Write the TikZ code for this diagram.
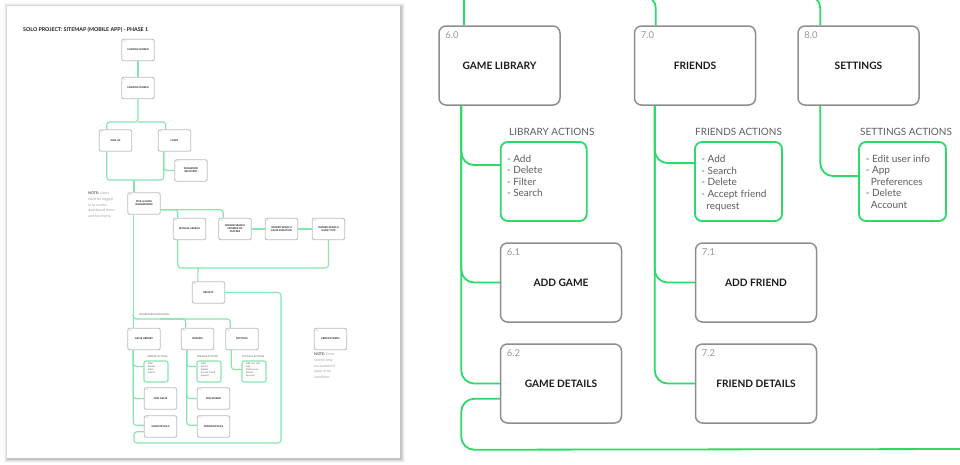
\documentclass[tikz,border=0pt]{standalone}
\usepackage{fontspec}
\setmainfont{Lato}
\usetikzlibrary{calc}
\definecolor{rgreen}{HTML}{2BDA68}
\definecolor{ogreen}{HTML}{86E6AE}
\definecolor{bgrey}{HTML}{8E8E8E}
\definecolor{ogrey}{HTML}{BDBDBD}
\definecolor{numgrey}{HTML}{9A9A9A}
\definecolor{txtdark}{HTML}{1A1A1A}
\definecolor{txtgrey}{HTML}{5E5E5E}
\definecolor{notegrey}{HTML}{A6A6A6}
\newcommand\mkbox[6]{\node[#1] (#2) at (#3,#4) {#6};\node[#1num] (#2num) at (#2.north west) {#5};}
\begin{document}
\begin{tikzpicture}[x=1pt,y=-1pt,
  obox/.style={draw=ogrey, line width=0.9, rounded corners=2, fill=white, minimum width=32.5, minimum height=21.5, inner sep=0, align=center, font=\fontsize{2.5}{3}\selectfont\bfseries, text=txtdark},
  oboxnum/.style={anchor=north west, inner sep=0, xshift=2, yshift=-1.8, font=\fontsize{1.8}{2}\selectfont, text=numgrey},
  oact/.style={draw=ogreen, line width=1.1, rounded corners=2, minimum width=24, minimum height=21, inner sep=0},
  oacttxt/.style={anchor=north west, inner sep=0, align=left, font=\fontsize{2.4}{3}\selectfont, text=txtgrey},
  oactlbl/.style={anchor=west, inner sep=0, font=\fontsize{2.4}{3}\selectfont, text=txtgrey},
  onote/.style={anchor=north west, inner sep=0, align=left, font=\fontsize{3.7}{5.6}\selectfont, text=notegrey},
  oline/.style={draw=ogreen, line width=1.15, rounded corners=3},
  rbox/.style={draw=bgrey, line width=1.5, rounded corners=7, fill=white, minimum width=121, minimum height=79, inner sep=0, font=\fontsize{10.2}{12}\selectfont\bfseries, text=txtdark},
  rboxnum/.style={anchor=north west, inner sep=0, xshift=7, yshift=-6.5, font=\fontsize{9.5}{11}\selectfont, text=numgrey},
  ract/.style={draw=rgreen, line width=1.8, rounded corners=7, minimum width=87, minimum height=79, inner sep=0},
  racttxt/.style={anchor=north west, inner sep=0, align=left, font=\fontsize{10}{11.6}\selectfont, text=txtgrey},
  ractlbl/.style={anchor=west, inner sep=0, font=\fontsize{10}{12}\selectfont, text=txtgrey},
  rline/.style={draw=rgreen, line width=1.8, rounded corners=13}
]
\useasboundingbox (0,0) rectangle (960,464);
\fill[white] (0,0) rectangle (960,464);
% ---------- page with shadow ----------
\foreach \i/\o in {4/0.03,3/0.05,2/0.07,1/0.09}
  \fill[black, opacity=\o] (7-\i+0.5,6-\i+0.5) rectangle (400+\i+0.5,458+\i+1);
\fill[white] (7,6) rectangle (400,458);
\node[anchor=west, inner sep=0, font=\fontsize{5.3}{6}\selectfont\bfseries, text=txtdark] (title) at (23,30) {SOLO PROJECT: SITEMAP (MOBILE APP) - PHASE 1};
% ---------- overview coordinates ----------
\coordinate (oT1) at (138,122);
\coordinate (oU) at (134,180);
\coordinate (onav) at (160,319);
\coordinate (obar) at (198,268);
\coordinate (oloopR) at (281,443);
\coordinate (oloopL) at (134,443);
% ---------- overview boxes ----------
\mkbox{obox}{load}{138}{50}{1.0}{LOADING SCREEN}
\mkbox{obox}{land}{138}{88}{2.0}{LANDING SCREEN}
\mkbox{obox}{signup}{115.5}{140.5}{3.0}{SIGN UP}
\mkbox{obox}{login}{174.5}{140.5}{3.1}{LOGIN}
\mkbox{obox}{pwd}{191}{170.5}{3.2}{PASSWORD\\RECOVERY}
\mkbox{obox}{pick}{144}{203.5}{4.0}{PICK A GAME\\(DASHBOARD)}
\mkbox{obox}{manual}{189.5}{229}{5.1}{MANUAL SEARCH}
\mkbox{obox}{wnum}{235}{229}{5.2}{WIZARD SEARCH\\NUMBER OF\\PLAYERS}
\mkbox{obox}{wdur}{281.5}{229}{5.3}{WIZARD SEARCH\\GAME DURATION}
\mkbox{obox}{wtype}{328.5}{229}{5.4}{WIZARD SEARCH\\GAME TYPE}
\mkbox{obox}{results}{208.5}{292.5}{5.5}{RESULTS}
\mkbox{obox}{glib}{144}{339}{6.0}{GAME LIBRARY}
\mkbox{obox}{ofri}{197.5}{339}{7.0}{FRIENDS}
\mkbox{obox}{oset}{242}{339}{8.0}{SETTINGS}
\mkbox{obox}{oerr}{330.5}{339}{9.0}{ERROR SCREEN}
\mkbox{obox}{oaddg}{160.5}{398.5}{6.1}{ADD GAME}
\mkbox{obox}{oaddf}{213.5}{398.5}{7.1}{ADD FRIEND}
\mkbox{obox}{ogdet}{160.5}{426.5}{6.2}{GAME DETAILS}
\mkbox{obox}{ofdet}{213.5}{426.5}{7.2}{FRIEND DETAILS}
\node[oact] (olibact) at (156,371.5) {};
\node[oact] (ofriact) at (209,371.5) {};
\node[oact] (osetact) at (254,371.5) {};
\node[oacttxt] (olibtxt) at ($(olibact.north west)+(3,2.5)$) {- Add\\- Delete\\- Filter\\- Search};
\node[oacttxt] (ofritxt) at ($(ofriact.north west)+(3,2.5)$) {- Add\\- Search\\- Delete\\- Accept friend\\\ \ request};
\node[oacttxt] (osettxt) at ($(osetact.north west)+(3,2.5)$) {- Edit user info\\- App\\\ \ Preferences\\- Delete\\\ \ Account};
\node[oactlbl] (oliblbl) at (147,357) {LIBRARY ACTIONS};
\node[oactlbl] (ofrilbl) at (197,357) {FRIENDS ACTIONS};
\node[oactlbl] (osetlbl) at (242,357) {SETTINGS ACTIONS};
\node[oactlbl] (onavlbl) at (139,315) {DASHBOARD NAVIGATION};
\node[onote] (note1) at (88,192) {\textcolor{txtgrey}{\bfseries NOTE:} Users\\must be logged\\in to access\\dashboard items\\and functions.};
\node[onote] (note2) at (314,353) {\textcolor{txtgrey}{\bfseries NOTE:} Error\\screen only\\encountered\\upon error\\condition.};
% ---------- overview connectors ----------
\draw[oline] (load.south) -- (land.north);
\draw[oline] (land.south) -- (oT1) -| ($(signup.north west)+(8,0)$);
\draw[oline] (oT1) -| ($(login.north west)+(8,0)$);
\draw[oline] ($(signup.south west)+(8,0)$) |- (oU) -| ($(login.south west)+(6,0)$);
\draw[oline] (oU) -- (oU |- pick.north);
\draw[oline] ($(login.south west)+(6,0)$) |- (pwd.west);
\draw[oline] ($(pick.south west)+(6,0)$) -- ($(glib.north west)+(6,0)$);
\draw[oline] ($(glib.north west)+(6,-14)$) |- (onav) -| ($(ofri.north west)+(5,0)$);
\draw[oline] (onav) -| ($(oset.north west)+(5,0)$);
\draw[oline] ($(pick.south east)+(0,-5)$) -| ($(manual.north west)+(5,0)$);
\draw[oline] ($(pick.south east)+(0,-5)$) -| ($(wnum.north west)+(5,0)$);
\draw[oline] (wnum) -- (wdur);
\draw[oline] (wdur) -- (wtype);
\draw[oline] ($(manual.south west)+(5,0)$) |- (obar) -| (wtype.south);
\draw[oline] (obar) -- ($(results.north west)+(6,0)$);
\draw[oline] (results.east) -| (oloopR) -- (oloopL) |- ($(ogdet.south west)+(0,-6)$);
\draw[oline] ($(glib.south west)+(6,0)$) |- ($(ogdet.north west)+(0,10)$);
\draw[oline] ($(glib.south west)+(6,0)$) |- ($(olibact.north west)+(0,6)$);
\draw[oline] ($(glib.south west)+(6,0)$) |- (oaddg.west);
\draw[oline] ($(ofri.south west)+(6,0)$) |- ($(ofdet.north west)+(0,10)$);
\draw[oline] ($(ofri.south west)+(6,0)$) |- ($(ofriact.north west)+(0,6)$);
\draw[oline] ($(ofri.south west)+(6,0)$) |- (oaddf.west);
\draw[oline] ($(oset.south west)+(6,0)$) |- ($(osetact.north west)+(0,9)$);
% ---------- right detail panel ----------
\begin{scope}
\clip (420,0) rectangle (960,464);
\coordinate (rlibtop) at (464,-10);
\coordinate (rfritopL) at (590,-4);
\coordinate (rsettopL) at (760,-4);
\coordinate (rloopend) at (975,449);
\mkbox{rbox}{rlib}{499.5}{65.5}{6.0}{GAME LIBRARY}
\mkbox{rbox}{rfri}{695}{65.5}{7.0}{FRIENDS}
\mkbox{rbox}{rset}{858.5}{65.5}{8.0}{SETTINGS}
\mkbox{rbox}{raddg}{561}{282.5}{6.1}{ADD GAME}
\mkbox{rbox}{raddf}{756}{282.5}{7.1}{ADD FRIEND}
\mkbox{rbox}{rgdet}{561}{383.5}{6.2}{GAME DETAILS}
\mkbox{rbox}{rfdet}{756}{383.5}{7.2}{FRIEND DETAILS}
\node[ract, minimum width=86] (rlibact) at (543.7,181.5) {};
\node[ract] (rfriact) at (738.5,181.5) {};
\node[ract] (rsetact) at (902.5,181.5) {};
\node[racttxt] (rlibtxt) at ($(rlibact.north west)+(7,13.5)$) {- Add\\- Delete\\- Filter\\- Search};
\node[racttxt] (rfritxt) at ($(rfriact.north west)+(7,14)$) {- Add\\- Search\\- Delete\\- Accept friend\\\ \ request};
\node[racttxt] (rsettxt) at ($(rsetact.north west)+(7.5,13.5)$) {- Edit user info\\- App\\\ \ Preferences\\- Delete\\\ \ Account};
\node[ractlbl] (rliblbl) at (509,132) {LIBRARY ACTIONS};
\node[ractlbl] (rfrilbl) at (695,132) {FRIENDS ACTIONS};
\node[ractlbl] (rsetlbl) at (860,132) {SETTINGS ACTIONS};
\draw[rline] (rlibtop) -- (rlibtop |- rlib.north);
\draw[rline] ($(rlib.south west)+(23,0)$) |- (rgdet.west);
\draw[rline] ($(rlib.south west)+(23,0)$) |- ($(rlibact.north west)+(0,24)$);
\draw[rline] ($(rlib.south west)+(23,0)$) |- (raddg.west);
\draw[rline] ($(rgdet.south west)+(0,-25)$) -| ($(rlib.south west)+(23,344)$) -- (rloopend);
\draw[rline, rounded corners=12] (rfritopL) -| ($(rfri.north west)+(22,0)$);
\draw[rline] ($(rfri.south west)+(21,0)$) |- (rfdet.west);
\draw[rline] ($(rfri.south west)+(21,0)$) |- ($(rfriact.north west)+(0,22)$);
\draw[rline] ($(rfri.south west)+(21,0)$) |- (raddf.west);
\draw[rline, rounded corners=12] (rsettopL) -| ($(rset.north west)+(23,0)$);
\draw[rline] ($(rset.south west)+(23,0)$) |- ($(rsetact.north west)+(0,35)$);
\end{scope}
\end{tikzpicture}
\end{document}
